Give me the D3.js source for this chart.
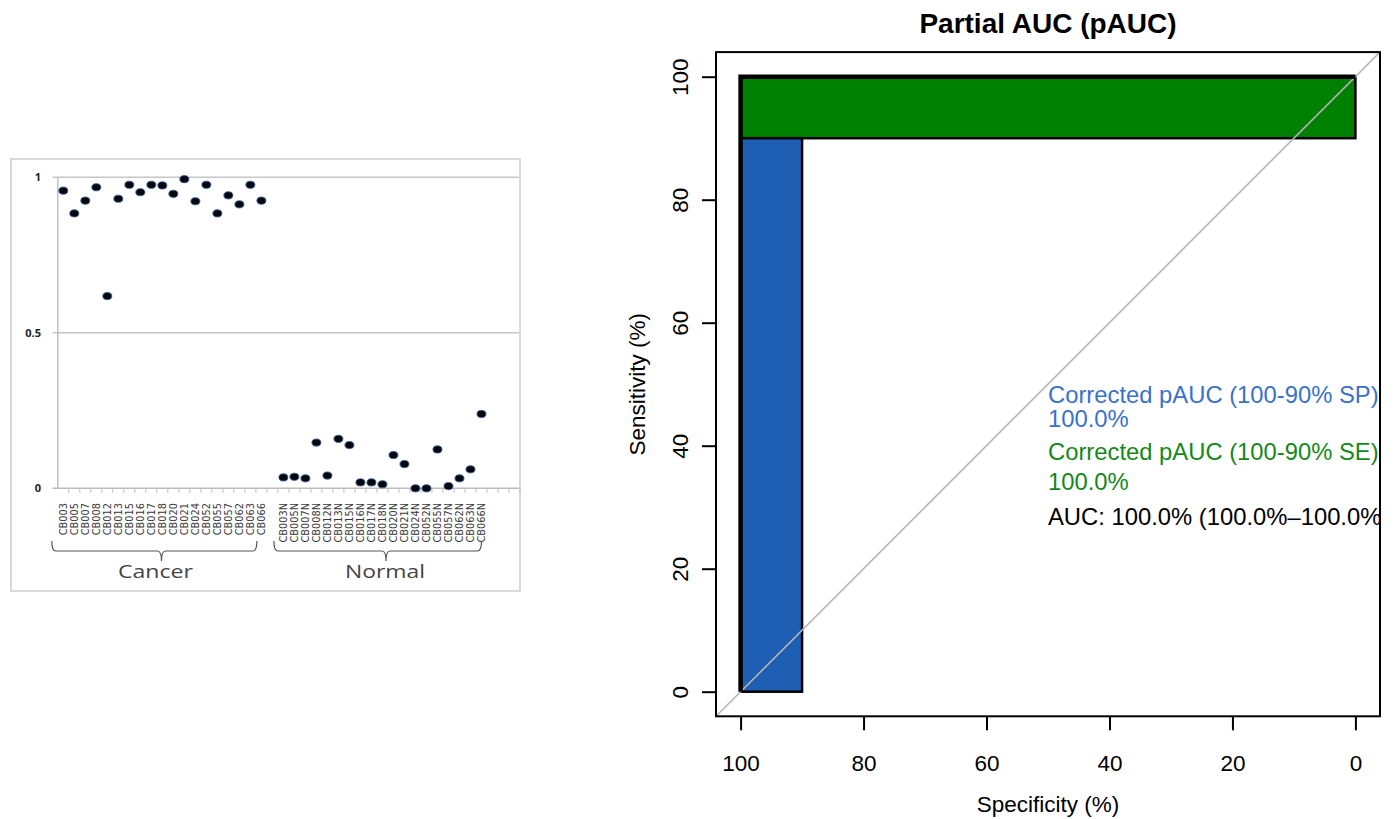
<!DOCTYPE html>
<html><head><meta charset="utf-8">
<script src="https://cdn.jsdelivr.net/npm/d3@7"></script>
<style>html,body{margin:0;padding:0;background:#fff;}svg{display:block;}</style>
</head><body>
<svg id="chart" width="1397" height="819"></svg>
<script>
// ---------- Left panel data ----------
const cancerSamples = ["CB003","CB005","CB007","CB008","CB012","CB013","CB015","CB016","CB017","CB018","CB020","CB021","CB024","CB052","CB055","CB057","CB062","CB063","CB066"];
const normalSamples = ["CB003N","CB005N","CB007N","CB008N","CB012N","CB013N","CB015N","CB016N","CB017N","CB018N","CB020N","CB021N","CB024N","CB052N","CB055N","CB057N","CB062N","CB063N","CB066N"];
const cancerValues = [0.957,0.884,0.925,0.968,0.618,0.931,0.976,0.952,0.976,0.974,0.947,0.994,0.923,0.976,0.884,0.942,0.913,0.976,0.925];
const normalValues = [0.035,0.037,0.032,0.147,0.041,0.159,0.139,0.019,0.019,0.013,0.107,0.078,0.0,0.0,0.125,0.007,0.032,0.061,0.239];
const leftYTicks = [0, 0.5, 1];
const leftYTickLabels = ["0", "0.5", "1"];
const groupNames = ["Cancer", "Normal"];

// ---------- Right panel data ----------
const specTicks = [100, 80, 60, 40, 20, 0];
const sensTicks = [0, 20, 40, 60, 80, 100];
const rocSpec = [100, 100, 0];
const rocSens = [0, 100, 100];
const pAucSpRange = [100, 90];   // specificity range (blue)
const pAucSeRange = [100, 90];   // sensitivity range (green)
const infoLines = [
  {text: "Corrected pAUC (100-90% SP):", sens: 46.9, col: "#3a72c9"},
  {text: "100.0%", sens: 43.0, col: "#3a72c9"},
  {text: "Corrected pAUC (100-90% SE):", sens: 37.7, col: "#14891a"},
  {text: "100.0%", sens: 32.8, col: "#14891a"},
  {text: "AUC: 100.0% (100.0%\u2013100.0%)", sens: 27.1, col: "#000"}
];

const svg = d3.select("#chart");
svg.append("rect").attr("width",1397).attr("height",819).attr("fill","#fff");

// ================= LEFT PANEL =================
const L = svg.append("g");
L.append("rect").attr("x",11).attr("y",159).attr("width",509).attr("height",432)
  .attr("fill","#fff").attr("stroke","#d9d9d9").attr("stroke-width",2);

const cats = [...cancerSamples, "_gap", ...normalSamples, "_e1", "_e2", "_e3"];
const xL = d3.scaleBand().domain(cats).range([57.8, 520]).paddingInner(0).paddingOuter(0);
const yL = d3.scaleLinear().domain([0, 1]).range([488.3, 177.3]);
const plotLeft = 52.5, plotRight = 519;

// gridlines
L.selectAll("line.grid").data(leftYTicks.filter(v => v > 0)).join("line")
  .attr("x1", plotLeft).attr("x2", plotRight)
  .attr("y1", d => yL(d)).attr("y2", d => yL(d))
  .attr("stroke","#c6c6c6").attr("stroke-width",1.4);
// y axis line
L.append("line").attr("x1", xL.range()[0]).attr("x2", xL.range()[0])
  .attr("y1", yL(1)).attr("y2", yL(0)).attr("stroke","#bdbdbd").attr("stroke-width",1.4);
// x axis line
L.append("line").attr("x1", plotLeft).attr("x2", plotRight)
  .attr("y1", yL(0)).attr("y2", yL(0)).attr("stroke","#bdbdbd").attr("stroke-width",1.4);
// category ticks
L.selectAll("line.ctick").data(cats).join("line")
  .attr("x1", d => xL(d) + xL.bandwidth()).attr("x2", d => xL(d) + xL.bandwidth())
  .attr("y1", yL(0)).attr("y2", yL(0) + 4.5)
  .attr("stroke","#bdbdbd").attr("stroke-width",1);
// y tick labels
L.selectAll("text.ytl").data(leftYTicks).join("text")
  .attr("x", 41).attr("y", d => yL(d)).attr("dy","0.35em")
  .attr("text-anchor","end").attr("font-family","'Open Sans', sans-serif")
  .attr("font-weight","bold").attr("font-size",11).attr("fill","#222")
  .text((d,i) => leftYTickLabels[i]);
// category labels
L.selectAll("text.cl").data(cats.filter(c => !c.startsWith("_"))).join("text")
  .attr("transform", d => `translate(${xL(d) + xL.bandwidth()/2},503) rotate(-90)`)
  .attr("dy","0.35em").attr("text-anchor","end")
  .attr("font-family","'DejaVu Sans', sans-serif").attr("font-size",9.8)
  .attr("fill","#3a3a3a").text(d => d);

// braces
function brace(x1, x2, cx) {
  const yt = 541, yb = 551, yc = 561;
  return `M${x1},${yt} Q${x1},${yb} ${x1+4},${yb} L${cx-4},${yb} Q${cx},${yb} ${cx},${yc} Q${cx},${yb} ${cx+4},${yb} L${x2-4},${yb} Q${x2},${yb} ${x2},${yt}`;
}
const groups = [
  {name: groupNames[0], x1: xL(cancerSamples[0]) - 6, x2: xL(cancerSamples[cancerSamples.length-1]) + 1, cx: 161.5, tx: 155.5},
  {name: groupNames[1], x1: xL(normalSamples[0]) - 4, x2: xL(normalSamples[normalSamples.length-1]) + xL.bandwidth()/2, cx: 386, tx: 385}
];
L.selectAll("path.brace").data(groups).join("path")
  .attr("d", d => brace(d.x1, d.x2, d.cx)).attr("fill","none")
  .attr("stroke","#555").attr("stroke-width",1.2);
L.selectAll("text.grp").data(groups).join("text")
  .attr("x", d => d.tx).attr("y", 578).attr("text-anchor","middle")
  .attr("font-family","'Open Sans', sans-serif").attr("font-size",19)
  .attr("fill","#444").attr("textLength", d => d.name === "Cancer" ? 75 : 80)
  .attr("lengthAdjust","spacingAndGlyphs").text(d => d.name);

// points
const pts = [
  ...cancerSamples.map((s,i) => ({cat: s, v: cancerValues[i]})),
  ...normalSamples.map((s,i) => ({cat: s, v: normalValues[i]}))
];
L.selectAll("ellipse.pt").data(pts).join("ellipse")
  .attr("cx", d => xL(d.cat) + xL.bandwidth()/2).attr("cy", d => yL(d.v))
  .attr("rx", 4.5).attr("ry", 3.6)
  .attr("fill","#05070f").attr("stroke","#3a5f95").attr("stroke-width",0.9);

// ================= RIGHT PANEL =================
const R = svg.append("g");
const xR = d3.scaleLinear().domain([104, -4]).range([716, 1380]);
const yR = d3.scaleLinear().domain([-4, 104]).range([716.3, 52.1]);
const font = "'Liberation Sans', Arial, Helvetica, sans-serif";

R.append("clipPath").attr("id","plotclip").append("rect")
  .attr("x", xR(104)).attr("y", yR(104)).attr("width", xR(-4)-xR(104)).attr("height", yR(-4)-yR(104));

// green (SE) bar
R.append("rect")
  .attr("x", xR(100)).attr("y", yR(pAucSeRange[0]))
  .attr("width", xR(0) - xR(100)).attr("height", yR(pAucSeRange[1]) - yR(pAucSeRange[0]))
  .attr("fill","#008000").attr("stroke","#000").attr("stroke-width",2.5);
// blue (SP) bar
R.append("rect")
  .attr("x", xR(pAucSpRange[0])).attr("y", yR(pAucSeRange[1]))
  .attr("width", xR(pAucSpRange[1]) - xR(pAucSpRange[0])).attr("height", yR(0) - yR(pAucSeRange[1]))
  .attr("fill","#1e5fb4").attr("stroke","#000").attr("stroke-width",2.5);

// identity line
R.append("line").attr("clip-path","url(#plotclip)")
  .attr("x1", xR(104)).attr("y1", yR(-4)).attr("x2", xR(-4)).attr("y2", yR(104))
  .attr("stroke","#b5b5b5").attr("stroke-width",1.6);

// ROC curve
R.append("path")
  .datum(rocSpec.map((s,i) => [s, rocSens[i]]))
  .attr("d", d3.line().x(d => xR(d[0])).y(d => yR(d[1])))
  .attr("fill","none").attr("stroke","#000").attr("stroke-width",4.5);

// box
R.append("rect").attr("x", xR(104)).attr("y", yR(104))
  .attr("width", xR(-4)-xR(104)).attr("height", yR(-4)-yR(104))
  .attr("fill","none").attr("stroke","#000").attr("stroke-width",2);

// axes
const xAx = R.append("g").attr("transform", `translate(0,${yR(-4)})`)
  .call(d3.axisBottom(xR).tickValues(specTicks).tickSize(14).tickSizeOuter(0));
xAx.select(".domain").remove();
xAx.selectAll("line").attr("stroke","#000").attr("stroke-width",2);
xAx.selectAll("text").attr("y", 54.4).attr("dy", 0)
  .attr("font-family", font).attr("font-size", 22.5).attr("fill","#000");

const yAx = R.append("g").attr("transform", `translate(${xR(104)},0)`)
  .call(d3.axisLeft(yR).tickValues(sensTicks).tickSize(14).tickSizeOuter(0));
yAx.select(".domain").remove();
yAx.selectAll("line").attr("stroke","#000").attr("stroke-width",2);
yAx.selectAll("text").attr("x", 0).attr("dy", 0)
  .attr("transform","translate(-28.5,0) rotate(-90)").attr("text-anchor","middle")
  .attr("font-family", font).attr("font-size", 22.5).attr("fill","#000");

// info texts
R.append("g").attr("clip-path","url(#plotclip)")
  .selectAll("text").data(infoLines).join("text")
  .attr("x", xR(50)).attr("y", d => yR(d.sens))
  .attr("font-family", font).attr("font-size", 23.8).attr("fill", d => d.col)
  .text(d => d.text);

// titles
R.append("text").attr("x", (xR(104)+xR(-4))/2).attr("y", 33).attr("text-anchor","middle")
  .attr("font-family", font).attr("font-weight","bold").attr("font-size", 28).text("Partial AUC (pAUC)");
R.append("text").attr("x", (xR(104)+xR(-4))/2).attr("y", 812).attr("text-anchor","middle")
  .attr("font-family", font).attr("font-size", 22.5).text("Specificity (%)");
R.append("text").attr("transform", `translate(645,${(yR(104)+yR(-4))/2}) rotate(-90)`)
  .attr("text-anchor","middle")
  .attr("font-family", font).attr("font-size", 22.5).text("Sensitivity (%)");
</script>
</body></html>
